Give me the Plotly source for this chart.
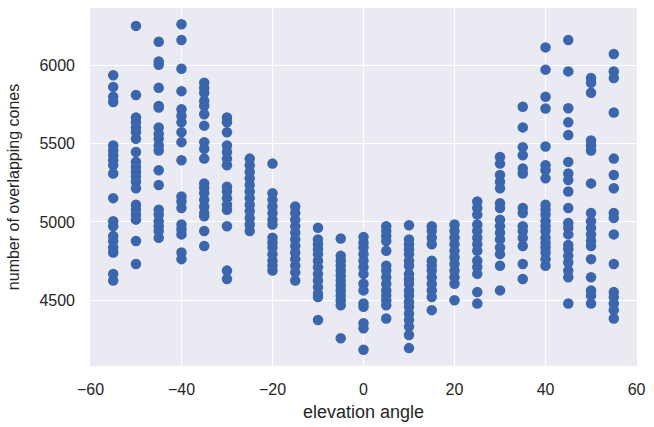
import plotly.graph_objects as go

angles = [-55, -50, -45, -40, -35, -30, -25, -20, -15, -10, -5, 0, 5, 10, 15, 20, 25, 30, 35, 40, 45, 50, 55]

cones = {
    -55: [5935, 5861, 5798, 5765, 5488, 5456, 5425, 5393, 5362, 5309, 5152, 5005, 4973, 4910, 4879, 4837, 4805, 4669, 4627],
    -50: [6250, 5809, 5666, 5635, 5603, 5572, 5530, 5446, 5383, 5351, 5320, 5288, 5257, 5215, 5110, 5078, 5047, 5015, 4879, 4732],
    -45: [6149, 6023, 6002, 5855, 5740, 5729, 5603, 5561, 5530, 5488, 5456, 5330, 5236, 5078, 5047, 5005, 4973, 4942, 4900],
    -40: [6260, 6160, 5977, 5834, 5719, 5677, 5635, 5572, 5509, 5393, 5162, 5131, 5089, 4984, 4952, 4921, 4805, 4763],
    -35: [5887, 5855, 5824, 5771, 5740, 5687, 5614, 5509, 5467, 5404, 5246, 5215, 5183, 5141, 5099, 5057, 5036, 4942, 4847],
    -30: [5666, 5635, 5572, 5488, 5446, 5404, 5362, 5225, 5194, 5152, 5110, 5078, 4973, 4690, 4637],
    -25: [5404, 5362, 5320, 5278, 5236, 5194, 5152, 5110, 5068, 5026, 4984, 4942],
    -20: [5372, 5183, 5141, 5099, 5057, 5015, 4984, 4900, 4869, 4837, 4795, 4753, 4721, 4690],
    -15: [5099, 5057, 5015, 4973, 4931, 4889, 4847, 4805, 4763, 4721, 4679, 4627],
    -10: [4963, 4889, 4858, 4826, 4795, 4753, 4711, 4669, 4627, 4585, 4543, 4522, 4375],
    -5: [4895, 4784, 4753, 4721, 4690, 4658, 4627, 4595, 4564, 4532, 4501, 4469, 4259],
    0: [4904, 4868, 4837, 4795, 4753, 4711, 4669, 4606, 4564, 4480, 4459, 4354, 4322, 4186],
    5: [4973, 4942, 4910, 4879, 4816, 4721, 4690, 4648, 4606, 4564, 4532, 4501, 4469, 4385],
    10: [4979, 4889, 4858, 4826, 4795, 4753, 4721, 4669, 4637, 4606, 4564, 4532, 4490, 4459, 4417, 4375, 4333, 4280, 4196],
    15: [4973, 4942, 4900, 4858, 4753, 4721, 4690, 4648, 4606, 4564, 4522, 4438],
    20: [4984, 4942, 4900, 4858, 4816, 4774, 4732, 4690, 4648, 4606, 4501],
    25: [5131, 5089, 5047, 4984, 4942, 4900, 4858, 4816, 4753, 4711, 4669, 4553, 4480],
    30: [5414, 5372, 5299, 5257, 5215, 5120, 5089, 5015, 4973, 4931, 4889, 4837, 4795, 4721, 4564],
    35: [5735, 5603, 5477, 5425, 5341, 5309, 5089, 5057, 4973, 4942, 4900, 4847, 4732, 4637],
    40: [6113, 5971, 5798, 5723, 5481, 5362, 5330, 5278, 5110, 5078, 5047, 5005, 4973, 4942, 4900, 4868, 4837, 4805, 4763, 4721],
    45: [6160, 5960, 5725, 5635, 5555, 5383, 5309, 5267, 5194, 5089, 4994, 4963, 4921, 4853, 4826, 4784, 4742, 4690, 4648, 4480],
    50: [5918, 5887, 5824, 5519, 5488, 5456, 5246, 5057, 5005, 4963, 4921, 4879, 4847, 4763, 4648, 4564, 4532, 4480],
    55: [6071, 5960, 5918, 5698, 5404, 5299, 5215, 5057, 5026, 4921, 4732, 4553, 4522, 4480, 4438, 4385],
}

x_ticks = [-60, -40, -20, 0, 20, 40, 60]
y_ticks = [4500, 5000, 5500, 6000]

xs, ys = [], []
for a in angles:
    for v in cones[a]:
        xs.append(a)
        ys.append(v)

fig = go.Figure(go.Scatter(
    x=xs, y=ys, mode="markers",
    marker=dict(size=10.5, color="#3b66ad", line=dict(width=0)),
    showlegend=False,
))

font = "Liberation Sans, Arial, sans-serif"
fig.update_layout(
    width=654, height=427,
    margin=dict(l=90, r=10, t=8, b=56),
    paper_bgcolor="white",
    plot_bgcolor="#eaeaf2",
    font=dict(family=font, size=16, color="#262626"),
)
fig.update_xaxes(
    range=[-60.1, 60.1], tickvals=x_ticks,
    ticktext=[("\u2212" + str(abs(t))) if t < 0 else str(t) for t in x_ticks],
    showgrid=True, gridcolor="white", gridwidth=1.3, zeroline=False,
    showline=False, ticks="", ticklabelstandoff=12,
    title=dict(text="elevation angle", font=dict(size=18), standoff=8),
)
fig.update_yaxes(
    range=[4082, 6364], tickvals=y_ticks,
    showgrid=True, gridcolor="white", gridwidth=1.3, zeroline=False,
    showline=False, ticks="", ticklabelstandoff=14,
    title=dict(text="number of overlapping cones", font=dict(size=16), standoff=15),
)

fig.write_html("out.html")
